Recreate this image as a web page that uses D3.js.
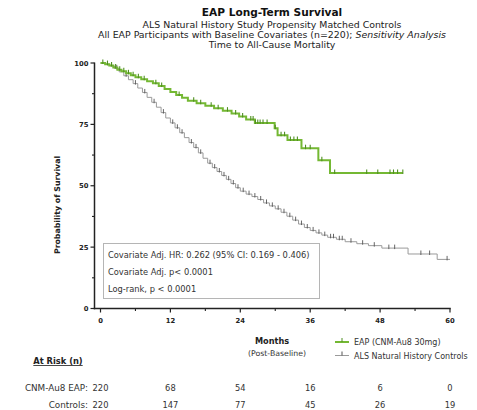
<!DOCTYPE html>
<html>
<head>
<meta charset="utf-8">
<script src="https://cdn.jsdelivr.net/npm/d3@7"></script>
<style>
  html, body { margin: 0; padding: 0; background: #fff; }
  svg { display: block; font-family: "DejaVu Sans", "Liberation Sans", Arial, sans-serif; }
</style>
</head>
<body>
<svg id="chart" width="477" height="410"></svg>
<script>
// Kaplan-Meier step data: event times (months) and survival (%) after each step
const eapTimes = [0, 0.8, 1.5, 2.2, 2.9, 3.6, 4.4, 5.2, 6.0, 7.0, 8.0, 9.0, 10.0, 11.0, 12.0, 13.0, 14.0, 15.0,
  16.5, 18.0, 19.5, 21.0, 22.5, 23.8, 25.0, 26.5, 29.9, 30.4, 32.1, 34.5, 37.4, 39.4];
const eapSurv = [100, 99.5, 99.0, 98.2, 97.3, 96.6, 95.8, 95.0, 94.2, 93.4, 92.6, 91.8, 90.6, 89.4, 88.2, 87.0, 85.8, 84.6,
  83.6, 82.6, 81.6, 80.6, 79.4, 78.2, 77.0, 75.6, 73.4, 70.6, 68.6, 65.3, 60.4, 55.2];
const eapEnd = 51.9;
const eapCensor = [0.4, 1.2, 1.9, 2.6, 3.3, 4.0, 4.8, 5.6, 6.5, 7.5, 9.5, 10.5, 13.5, 16.0, 17.2, 19.0, 20.2, 21.8,
  23.2, 24.4, 25.8, 26.2, 26.6, 27.0, 27.4, 27.9, 28.6, 30.0, 31.0, 31.6, 32.6, 33.2, 33.8, 35.2, 36.0, 38.0,
  40.2, 45.7, 47.6, 49.7, 50.3, 51.0, 51.9];

const ctlTimes = [0, 0.8, 1.6, 2.4, 3.2, 4.0, 4.8, 5.6, 6.4, 7.2, 8.0, 8.8, 9.6, 10.4, 11.2, 12.0, 12.8, 13.6, 14.4,
  15.2, 16.0, 16.8, 17.6, 18.4, 19.2, 20.0, 20.8, 21.6, 22.4, 23.2, 24.0, 25.0, 26.0, 27.0, 28.0, 29.0, 30.0,
  31.0, 32.0, 33.0, 34.0, 35.0, 36.0, 37.0, 38.0, 39.0, 40.5, 42.0, 44.0, 46.0, 48.3, 52.8, 57.8];
const ctlSurv = [100, 99.5, 98.8, 97.8, 96.4, 94.8, 93.2, 91.6, 89.8, 88.0, 86.0, 84.0, 82.0, 79.8, 77.6, 75.6, 73.6, 71.6, 69.6,
  67.6, 65.6, 63.4, 61.2, 59.2, 57.4, 55.8, 54.2, 52.6, 50.9, 49.2, 47.8, 46.6, 45.6, 44.4, 43.0, 41.8, 40.6,
  39.2, 37.6, 36.0, 34.4, 33.0, 31.8, 30.8, 29.9, 29.0, 28.2, 27.2, 26.4, 25.6, 24.6, 22.2, 20.0];
const ctlEnd = 60;
const ctlCensor = [1.2, 2.8, 4.4, 6.0, 7.6, 9.2, 10.8, 12.4, 13.2, 14.0, 15.6, 16.4, 17.2, 18.8, 19.6, 20.4, 21.2,
  22.0, 22.8, 23.6, 24.5, 25.5, 26.5, 27.5, 28.5, 29.5, 30.5, 31.5, 32.5, 33.5, 34.5, 35.5, 36.5, 37.5, 38.5,
  39.5, 40.0, 41.0, 41.5, 43.0, 45.0, 47.0, 49.5, 50.5, 55.0, 56.5, 59.5];

const xTicks = [0, 12, 24, 36, 48, 60];
const yTicks = [0, 25, 50, 75, 100];
const atRiskEAP = [220, 68, 54, 16, 6, 0];
const atRiskCtl = [220, 147, 77, 45, 26, 19];

const titleLines = [
  "ALS Natural History Study Propensity Matched Controls",
  "All EAP Participants with Baseline Covariates (n=220); ",
  "Time to All-Cause Mortality"
];
const statLines = [
  "Covariate Adj. HR: 0.262 (95% CI: 0.169 - 0.406)",
  "Covariate Adj. p< 0.0001",
  "Log-rank, p < 0.0001"
];
const seriesNames = ["EAP (CNM-Au8 30mg)", "ALS Natural History Controls"];
const green = "#74b833";
const greenTick = "#4f8f22";
const grey = "#9a9a9a";
const greyTick = "#555";

const svg = d3.select("#chart");
svg.append("rect").attr("width", 477).attr("height", 410).attr("fill", "#fff");

const x = d3.scaleLinear().domain([0, 60]).range([100.5, 450]);
const y = d3.scaleLinear().domain([0, 100]).range([308.5, 63]);

// Titles
const cx = 272;
svg.append("text").attr("x", cx).attr("y", 16).attr("text-anchor", "middle")
  .attr("font-size", 10.6).attr("font-weight", "bold").attr("fill", "#111").text("EAP Long-Term Survival");
svg.append("text").attr("x", cx).attr("y", 28).attr("text-anchor", "middle")
  .attr("font-size", 9.4).attr("fill", "#222").text(titleLines[0]);
const t3 = svg.append("text").attr("x", cx).attr("y", 38).attr("text-anchor", "middle")
  .attr("font-size", 9.4).attr("fill", "#222");
t3.append("tspan").text(titleLines[1]);
t3.append("tspan").attr("font-style", "italic").text("Sensitivity Analysis");
svg.append("text").attr("x", cx).attr("y", 47.5).attr("text-anchor", "middle")
  .attr("font-size", 9.4).attr("fill", "#222").text(titleLines[2]);

// Axes
const axisColor = "#222";
const yAxisX = 94.5;
svg.append("line").attr("x1", yAxisX).attr("x2", yAxisX).attr("y1", y(100) - 0.5).attr("y2", y(0) + 0.75)
  .attr("stroke", axisColor).attr("stroke-width", 1.5);
svg.append("line").attr("x1", yAxisX - 0.75).attr("x2", x(60) + 0.75).attr("y1", y(0)).attr("y2", y(0))
  .attr("stroke", axisColor).attr("stroke-width", 1.5);

const yMinor = d3.range(12.5, 100, 25);
svg.selectAll(".ytick").data(yTicks).join("line")
  .attr("x1", yAxisX - 4).attr("x2", yAxisX).attr("y1", d => y(d)).attr("y2", d => y(d))
  .attr("stroke", axisColor).attr("stroke-width", 1.2);
svg.selectAll(".yminor").data(yMinor).join("line")
  .attr("x1", yAxisX - 2.5).attr("x2", yAxisX).attr("y1", d => y(d)).attr("y2", d => y(d))
  .attr("stroke", axisColor).attr("stroke-width", 1.1);
svg.selectAll(".ylab").data(yTicks).join("text")
  .attr("x", yAxisX - 6).attr("y", d => y(d) + 2.5).attr("text-anchor", "end")
  .attr("font-size", 6.8).attr("font-weight", "bold").attr("fill", "#222").text(d => d);

const xMinor = d3.range(6, 60, 12);
svg.selectAll(".xtick").data(xTicks).join("line")
  .attr("x1", d => x(d)).attr("x2", d => x(d)).attr("y1", y(0)).attr("y2", y(0) + 4)
  .attr("stroke", axisColor).attr("stroke-width", 1.2);
svg.selectAll(".xminor").data(xMinor).join("line")
  .attr("x1", d => x(d)).attr("x2", d => x(d)).attr("y1", y(0)).attr("y2", y(0) + 2.5)
  .attr("stroke", axisColor).attr("stroke-width", 1.1);
svg.selectAll(".xlab").data(xTicks).join("text")
  .attr("x", d => x(d)).attr("y", 323).attr("text-anchor", "middle")
  .attr("font-size", 6.8).attr("font-weight", "bold").attr("fill", "#222").text(d => d);

svg.append("text").attr("transform", "translate(60,205) rotate(-90)").attr("text-anchor", "middle")
  .attr("font-size", 7.8).attr("font-weight", "bold").attr("fill", "#222").text("Probability of Survival");
svg.append("text").attr("x", 272).attr("y", 344).attr("text-anchor", "middle")
  .attr("font-size", 8.2).attr("font-weight", "bold").attr("fill", "#222").text("Months");
svg.append("text").attr("x", 277).attr("y", 355.5).attr("text-anchor", "middle")
  .attr("font-size", 7.8).attr("fill", "#333").text("(Post-Baseline)");

// Statistics box
svg.append("rect").attr("x", 103.5).attr("y", 243.5).attr("width", 216).attr("height", 55)
  .attr("fill", "#fff").attr("stroke", "#b5b5b5").attr("stroke-width", 1);
svg.selectAll(".stat").data(statLines).join("text")
  .attr("x", 108).attr("y", (d, i) => 258 + i * 17)
  .attr("font-size", 8.3).attr("fill", "#333").text(d => d);

// Kaplan-Meier curves
function stepPoints(times, surv, end) {
  const pts = times.map((t, i) => [t, surv[i]]);
  pts.push([end, surv[surv.length - 1]]);
  return pts;
}
function survAt(times, surv, t) {
  const i = d3.bisectRight(times, t) - 1;
  return surv[Math.max(0, i)];
}
const line = d3.line().x(d => x(d[0])).y(d => y(d[1])).curve(d3.curveStepAfter);

function drawCurve(times, surv, end, censor, color, width, tickColor, tickWidth) {
  svg.append("path").datum(stepPoints(times, surv, end)).attr("d", line)
    .attr("fill", "none").attr("stroke", color).attr("stroke-width", width);
  svg.append("g").selectAll("line").data(censor).join("line")
    .attr("x1", d => x(d)).attr("x2", d => x(d))
    .attr("y1", d => y(survAt(times, surv, d)) - 3.5).attr("y2", d => y(survAt(times, surv, d)) + 1)
    .attr("stroke", tickColor).attr("stroke-width", tickWidth);
}
drawCurve(ctlTimes, ctlSurv, ctlEnd, ctlCensor, grey, 1, greyTick, 0.9);
drawCurve(eapTimes, eapSurv, eapEnd, eapCensor, green, 2, greenTick, 1.1);

// Legend
const legend = [
  { name: seriesNames[0], color: green, w: 2, tick: greenTick, y: 342 },
  { name: seriesNames[1], color: grey, w: 1, tick: greyTick, y: 355.5 }
];
const lg = svg.append("g");
legend.forEach(l => {
  lg.append("line").attr("x1", 335).attr("x2", 349).attr("y1", l.y).attr("y2", l.y)
    .attr("stroke", l.color).attr("stroke-width", l.w);
  lg.append("line").attr("x1", 342).attr("x2", 342).attr("y1", l.y - 4).attr("y2", l.y)
    .attr("stroke", l.tick).attr("stroke-width", 1);
  lg.append("text").attr("x", 354).attr("y", l.y + 3).attr("font-size", 8).attr("fill", "#333").text(l.name);
});

// Numbers at risk
svg.append("text").attr("x", 58).attr("y", 364).attr("text-anchor", "middle")
  .attr("font-size", 8.3).attr("font-weight", "bold").attr("fill", "#222")
  .attr("text-decoration", "underline").text("At Risk (n)");
const rows = [
  { label: "CNM-Au8 EAP:", vals: atRiskEAP, y: 390.5 },
  { label: "Controls:", vals: atRiskCtl, y: 409 - 1.5 }
];
rows.forEach(r => {
  svg.append("text").attr("x", 88).attr("y", r.y).attr("text-anchor", "end")
    .attr("font-size", 8.8).attr("fill", "#333").text(r.label);
  svg.append("g").selectAll("text").data(r.vals).join("text")
    .attr("x", (d, i) => x(xTicks[i])).attr("y", r.y).attr("text-anchor", "middle")
    .attr("font-size", 8.3).attr("fill", "#333").text(d => d);
});
</script>
</body>
</html>
